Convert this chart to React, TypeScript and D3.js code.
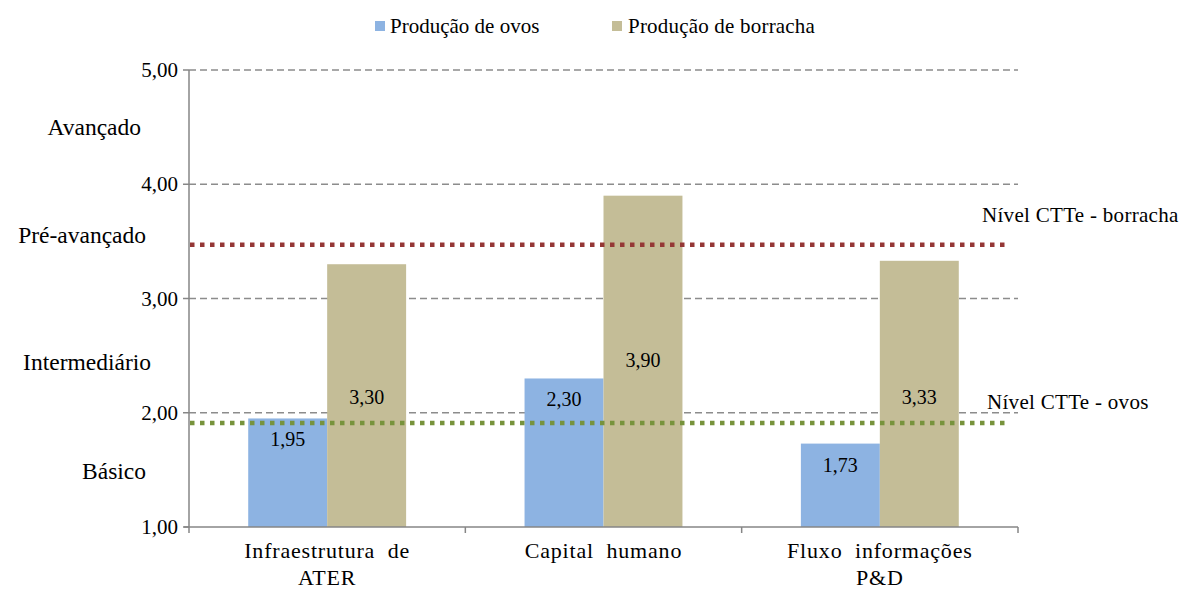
import React from "react";
import * as d3 from "d3";

const categories = [["Infraestrutura  de", "ATER"], ["Capital  humano"], ["Fluxo  informações", "P&D"]];
const seriesNames = ["Produção de ovos", "Produção de borracha"];
const ovos = [1.95, 2.3, 1.73];
const borracha = [3.3, 3.9, 3.33];
// vertical placement of value labels (in axis units), as placed in the original
const ovosLabelAt = [1.77, 2.12, 1.543];
const borrachaLabelAt = [2.138, 2.462, 2.138];
const yTicks = [1, 2, 3, 4, 5];
const levelNames = ["Avançado", "Pré-avançado", "Intermediário", "Básico"];
const levelAt = [4.5, 3.556, 2.44, 1.49];
const refLines = [
  { name: "Nível CTTe - borracha", value: 3.47, labelAt: 3.73, color: "#953735" },
  { name: "Nível CTTe - ovos", value: 1.91, labelAt: 2.09, color: "#77933C" },
];
const colors = ["#8DB3E2", "#C4BD97"];

const W = 1179, H = 589;
const M = { left: 189, right: 1018, top: 70, bottom: 527 };
const FONT = "'Times New Roman', Tinos, 'Liberation Serif', 'DejaVu Serif', 'Noto Serif', serif";

export default function App() {
  const y = d3.scaleLinear().domain([1, 5]).range([M.bottom, M.top]);
  const x0 = d3.scaleBand<number>().domain(d3.range(categories.length)).range([M.left, M.right]).padding(0);
  const bw = x0.bandwidth();
  const groupW = (bw * 2) / 3.5;
  const x1 = d3.scaleBand<number>().domain([0, 1]).range([0, groupW]).padding(0);
  const off = (bw - groupW) / 2;
  const series = [ovos, borracha];
  const labelAts = [ovosLabelAt, borrachaLabelAt];
  const fmt = (v: number) => v.toFixed(2).replace(".", ",");
  const levelX = [141, 146, 151, 146];

  return (
    <svg width={W} height={H} fontFamily={FONT} style={{ position: "absolute", left: 0, top: 0, background: "#fff" }}>
      <rect x={0} y={0} width={W} height={H} fill="#fff" />
      {/* legend */}
      <g fontSize={21} fill="#000">
        <rect x={375} y={21} width={10} height={10} fill={colors[0]} />
        <text x={390} y={33}>{seriesNames[0]}</text>
        <rect x={612} y={21} width={10} height={10} fill={colors[1]} />
        <text x={628} y={33} letterSpacing={0.2}>{seriesNames[1]}</text>
      </g>
      {/* gridlines */}
      {yTicks.filter((t) => t > 1).map((t) => (
        <line key={t} x1={M.left} x2={M.right} y1={y(t)} y2={y(t)} stroke="#8C8C8C" strokeWidth={1.3} strokeDasharray="7 4" />
      ))}
      {/* bars */}
      {categories.map((_, i) =>
        series.map((s, k) => (
          <rect key={`${i}-${k}`} x={(x0(i) as number) + off + (x1(k) as number)} y={y(s[i])} width={x1.bandwidth()} height={y(1) - y(s[i])} fill={colors[k]} />
        ))
      )}
      {/* axes */}
      <line x1={M.left} x2={M.left} y1={M.top} y2={M.bottom} stroke="#868686" strokeWidth={1.5} />
      <line x1={M.left - 5} x2={M.right} y1={M.bottom} y2={M.bottom} stroke="#868686" strokeWidth={1.5} />
      {yTicks.map((t) => (
        <line key={t} x1={M.left - 6} x2={M.left} y1={y(t)} y2={y(t)} stroke="#868686" strokeWidth={1.5} />
      ))}
      {d3.range(categories.length + 1).map((i) => {
        const xx = M.left + i * bw;
        return <line key={i} x1={xx} x2={xx} y1={M.bottom} y2={M.bottom + 6} stroke="#868686" strokeWidth={1.5} />;
      })}
      {/* reference lines */}
      {refLines.map((r) => (
        <line key={r.name} x1={M.left + 1} x2={M.right - 10} y1={y(r.value)} y2={y(r.value)} stroke={r.color} strokeWidth={4.5} strokeDasharray="4.5 5.5" />
      ))}
      {/* value labels */}
      <g fontSize={20} textAnchor="middle" fill="#000">
        {categories.map((_, i) =>
          series.map((s, k) => (
            <text key={`${i}-${k}`} x={(x0(i) as number) + off + (x1(k) as number) + x1.bandwidth() / 2} y={y(labelAts[k][i]) + 7}>
              {fmt(s[i])}
            </text>
          ))
        )}
      </g>
      {/* y tick labels */}
      <g fontSize={21} textAnchor="end" fill="#000">
        {yTicks.map((t) => (
          <text key={t} x={178} y={y(t) + 7}>{fmt(t)}</text>
        ))}
      </g>
      {/* level labels */}
      <g fontSize={23.5} textAnchor="end" fill="#000">
        {levelNames.map((n, i) => (
          <text key={n} x={levelX[i]} y={y(levelAt[i]) + 8}>{n}</text>
        ))}
      </g>
      {/* reference labels */}
      <g fontSize={21} fill="#000">
        {refLines.map((r, i) => (
          <text key={r.name} x={i === 0 ? 982 : 987} y={y(r.labelAt) + 7} letterSpacing={0.3}>{r.name}</text>
        ))}
      </g>
      {/* category labels */}
      <g fontSize={22} textAnchor="middle" fill="#000">
        {categories.map((lines, i) =>
          lines.map((ln, j) => (
            <text key={`${i}-${j}`} x={(x0(i) as number) + bw / 2} y={558 + j * 27} letterSpacing={0.8} style={{ whiteSpace: "pre" }}>{ln}</text>
          ))
        )}
      </g>
    </svg>
  );
}
